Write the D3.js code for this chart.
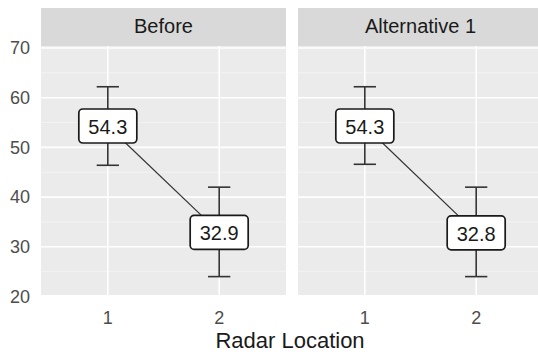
<!DOCTYPE html>
<html>
<head>
<meta charset="utf-8">
<script src="https://cdn.jsdelivr.net/npm/d3@7"></script>
<style>
  body { margin: 0; background: #fff; }
  text { font-family: "Liberation Sans", Arial, sans-serif; }
</style>
</head>
<body>
<div id="chart"></div>
<script>
// data
var panels = ["Before", "Alternative 1"]
var locations = ["1", "2"]
var meanBefore = [54.3, 32.9]
var upperBefore = [62.2, 42.0]
var lowerBefore = [46.4, 24.0]
var meanAlt = [54.3, 32.8]
var upperAlt = [62.2, 42.0]
var lowerAlt = [46.6, 24.0]
var yTicks = [20, 30, 40, 50, 60, 70]
var yMinor = [25, 35, 45, 55, 65]

var series = [
    { name: panels[0], mean: meanBefore, upper: upperBefore, lower: lowerBefore },
    { name: panels[1], mean: meanAlt, upper: upperAlt, lower: lowerAlt }
]

var width = 538, height = 356
var panelTop = 46, panelBottom = 295, stripTop = 8
var panelW = 245, panelGap = 12, firstLeft = 41

let svg = d3.select("#chart").append("svg")
    .attr("width", width)
    .attr("height", height)

let y = d3.scaleLinear().domain([20.3, 70.4]).range([panelBottom, panelTop])

svg.append("clipPath").attr("id", "clipAll")
    .append("rect").attr("x", 0).attr("y", panelTop).attr("width", width).attr("height", panelBottom - panelTop)

// y axis labels (only on the left)
svg.selectAll(".ylab")
    .data(yTicks)
    .enter()
    .append("text")
    .attr("x", 30)
    .attr("y", d => y(d) + 1.5)
    .attr("text-anchor", "end")
    .attr("dominant-baseline", "middle")
    .attr("font-size", 18)
    .attr("fill", "#4d4d4d")
    .text(d => d)

series.forEach(function(s, i) {
    let left = firstLeft + i * (panelW + panelGap)
    let x = d3.scalePoint().domain(locations).range([left, left + panelW]).padding(0.6)
    let barW = x.step() * 0.2

    let g = svg.append("g")

    // strip
    g.append("rect")
        .attr("x", left).attr("y", stripTop)
        .attr("width", panelW).attr("height", panelTop - stripTop)
        .attr("fill", "#d9d9d9")
    g.append("text")
        .attr("x", left + panelW / 2)
        .attr("y", (stripTop + panelTop) / 2 + 1)
        .attr("text-anchor", "middle")
        .attr("dominant-baseline", "middle")
        .attr("font-size", 20)
        .attr("fill", "#1a1a1a")
        .text(s.name)

    // panel background + grid
    let p = g.append("g").attr("clip-path", "url(#clipAll)")
    p.append("rect")
        .attr("x", left).attr("y", panelTop)
        .attr("width", panelW).attr("height", panelBottom - panelTop)
        .attr("fill", "#ebebeb")
    p.selectAll(".minor")
        .data(yMinor)
        .enter()
        .append("line")
        .attr("x1", left).attr("x2", left + panelW)
        .attr("y1", d => y(d)).attr("y2", d => y(d))
        .attr("stroke", "#f5f5f5").attr("stroke-width", 0.8)
    p.selectAll(".major")
        .data(yTicks)
        .enter()
        .append("line")
        .attr("x1", left).attr("x2", left + panelW)
        .attr("y1", d => y(d)).attr("y2", d => y(d))
        .attr("stroke", "#fff").attr("stroke-width", 1.6)
    p.selectAll(".vgrid")
        .data(locations)
        .enter()
        .append("line")
        .attr("x1", d => x(d)).attr("x2", d => x(d))
        .attr("y1", panelTop).attr("y2", panelBottom)
        .attr("stroke", "#fff").attr("stroke-width", 1.6)

    let pts = locations.map((loc, j) => ({ loc: loc, mean: s.mean[j], upper: s.upper[j], lower: s.lower[j] }))

    // error bars
    let eb = g.selectAll(".eb").data(pts).enter().append("g")
        .attr("stroke", "#333").attr("stroke-width", 1.6)
    eb.append("line")
        .attr("x1", d => x(d.loc)).attr("x2", d => x(d.loc))
        .attr("y1", d => y(d.upper)).attr("y2", d => y(d.lower))
    eb.append("line")
        .attr("x1", d => x(d.loc) - barW / 2).attr("x2", d => x(d.loc) + barW / 2)
        .attr("y1", d => y(d.upper)).attr("y2", d => y(d.upper))
    eb.append("line")
        .attr("x1", d => x(d.loc) - barW / 2).attr("x2", d => x(d.loc) + barW / 2)
        .attr("y1", d => y(d.lower)).attr("y2", d => y(d.lower))

    // connecting line
    g.append("path")
        .datum(pts)
        .attr("d", d3.line().x(d => x(d.loc)).y(d => y(d.mean)))
        .attr("fill", "none")
        .attr("stroke", "#333")
        .attr("stroke-width", 1.2)

    // labels
    let lab = g.selectAll(".lab").data(pts).enter().append("g")
        .attr("transform", d => "translate(" + x(d.loc) + "," + y(d.mean) + ")")
    lab.append("rect")
        .attr("x", -29).attr("y", -17)
        .attr("width", 58).attr("height", 34)
        .attr("rx", 4)
        .attr("fill", "#fff")
        .attr("stroke", "#1a1a1a")
        .attr("stroke-width", 1.7)
    lab.append("text")
        .attr("text-anchor", "middle")
        .attr("dominant-baseline", "central")
        .attr("y", 1)
        .attr("font-size", 20)
        .attr("fill", "#1a1a1a")
        .text(d => d.mean.toFixed(1))

    // x tick labels
    g.selectAll(".xlab")
        .data(locations)
        .enter()
        .append("text")
        .attr("x", d => x(d))
        .attr("y", 324)
        .attr("text-anchor", "middle")
        .attr("font-size", 18)
        .attr("fill", "#4d4d4d")
        .text(d => d)
})

// axis title
svg.append("text")
    .attr("x", 290)
    .attr("y", 348)
    .attr("text-anchor", "middle")
    .attr("font-size", 22)
    .attr("fill", "#1a1a1a")
    .text("Radar Location")
</script>
</body>
</html>
